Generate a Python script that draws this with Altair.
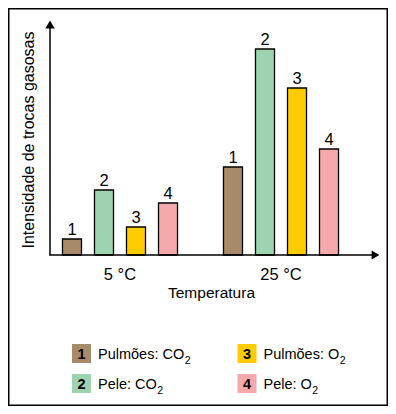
import altair as alt
import pandas as pd

# ---- data ----
temps = ["5 °C", "25 °C"]
series = ["Pulmões: CO₂", "Pele: CO₂", "Pulmões: O₂", "Pele: O₂"]
legend_main = ["Pulmões: CO", "Pele: CO", "Pulmões: O", "Pele: O"]
legend_sub = ["2", "2", "2", "2"]
numbers = ["1", "2", "3", "4"]
colors = ["#A68A6A", "#9DD3AE", "#FFCC00", "#F6A9AA"]
values_5C = [16, 65, 28, 52]
values_25C = [88, 206, 167, 106]
legend_col = [0, 0, 1, 1]
legend_row = [0, 1, 0, 1]
y_title = "Intensidade de trocas gasosas"
x_title = "Temperatura"

FONT = "Liberation Sans"
LEG_FS = 14.5
COL_STEP = 165.5      # px between legend columns
TXT_GAP = 16.5        # px from square centre to label start

# Arial / Liberation Sans advance widths (em) for the legend characters
_w = {"P": .667, "u": .556, "l": .222, "m": .833, "õ": .556, "e": .556, "s": .5,
      ":": .278, " ": .278, "C": .722, "O": .778}


def text_w(s, fs):
    return sum(_w.get(c, .556) for c in s) * fs


rows = []
for t, vals in zip(temps, [values_5C, values_25C]):
    for s, n, v in zip(series, numbers, vals):
        rows.append({"temp": t, "series": s, "num": n, "value": v})
bars_df = pd.DataFrame(rows)
legend_df = pd.DataFrame({"series": series, "num": numbers, "main": legend_main,
                          "sub": legend_sub, "lcol": legend_col, "lrow": legend_row,
                          "mw": [text_w(m, LEG_FS) for m in legend_main]})
temps_df = pd.DataFrame({"temp": temps})
one = pd.DataFrame({"k": [0]})

xscale = alt.Scale(domain=temps, range=[31.5, 353.5], paddingInner=0, paddingOuter=0)
xoff = alt.Scale(domain=series, paddingInner=0.406, paddingOuter=0.718)
yscale = alt.Scale(domain=[0, 240], range=[247, 7])
cscale = alt.Scale(domain=series, range=colors)

X = alt.X("temp:N", scale=xscale, axis=None, sort=temps)
XO = alt.XOffset("series:N", scale=xoff, sort=series)
Y = alt.Y("value:Q", scale=yscale, axis=None)

bars = alt.Chart(bars_df).mark_bar(stroke="black", strokeWidth=1.3).encode(
    x=X, xOffset=XO, y=Y,
    color=alt.Color("series:N", scale=cscale, legend=None),
)
bar_labels = alt.Chart(bars_df).mark_text(
    font=FONT, fontSize=16.5, baseline="alphabetic", dy=-4, color="black"
).encode(x=X, xOffset=XO, y=Y, text="num:N")

group_labels = alt.Chart(temps_df).mark_text(
    font=FONT, fontSize=16.5, baseline="alphabetic", color="black"
).encode(x=X, y=alt.value(272), text="temp:N")

x_title_mark = alt.Chart(pd.DataFrame({"t": [x_title]})).mark_text(
    font=FONT, fontSize=15.5, baseline="alphabetic", color="black"
).encode(x=alt.value(203.5), y=alt.value(289.5), text="t:N")

y_title_mark = alt.Chart(pd.DataFrame({"t": [y_title]})).mark_text(
    font=FONT, fontSize=16, baseline="middle", align="center", angle=270, color="black"
).encode(x=alt.value(21), y=alt.value(132), text="t:N")

# axes with arrowheads
y_axis = alt.Chart(one).mark_rule(color="black", strokeWidth=1.5).encode(
    x=alt.value(42), y=alt.value(247.5), y2=alt.value(18))
x_axis = alt.Chart(one).mark_rule(color="black", strokeWidth=1.5).encode(
    x=alt.value(41.5), x2=alt.value(366), y=alt.value(247))
y_arrow = alt.Chart(one).mark_point(shape="triangle-up", filled=True, size=90,
                                    color="black", opacity=1).encode(
    x=alt.value(42), y=alt.value(16.5))
x_arrow = alt.Chart(one).mark_point(shape="triangle-right", filled=True, size=80,
                                    color="black", opacity=1).encode(
    x=alt.value(367.5), y=alt.value(247))

# frame
frame = alt.Chart(one).mark_rect(fillOpacity=0, stroke="black", strokeWidth=1.5).encode(
    x=alt.value(0.75), x2=alt.value(379.25), y=alt.value(0.75), y2=alt.value(397.25))

# legend (x scale in pixel units, offset from the first square centre)
LXS = alt.Scale(domain=[0, 380], range=[73.5, 453.5], zero=False)
LY = alt.Y("lrow:Q", scale=alt.Scale(domain=[0, 1], range=[345.5, 375.5]), axis=None)
legend_base = alt.Chart(legend_df).transform_calculate(
    sx=f"datum.lcol * {COL_STEP}",
    tx=f"datum.lcol * {COL_STEP} + {TXT_GAP}",
    ux=f"datum.lcol * {COL_STEP} + {TXT_GAP} + datum.mw",
)
leg_sq = legend_base.mark_point(shape="square", filled=True, size=361, opacity=1).encode(
    x=alt.X("sx:Q", scale=LXS, axis=None), y=LY,
    color=alt.Color("series:N", scale=cscale, legend=None))
leg_num = legend_base.mark_text(
    font=FONT, fontSize=LEG_FS, fontWeight="bold", baseline="alphabetic", align="center",
    dy=5.5, color="black"
).encode(x=alt.X("sx:Q", scale=LXS, axis=None), y=LY, text="num:N")
leg_txt = legend_base.mark_text(
    font=FONT, fontSize=LEG_FS, baseline="alphabetic", align="left", dy=5.5, color="black"
).encode(x=alt.X("tx:Q", scale=LXS, axis=None), y=LY, text="main:N")
leg_sub = legend_base.mark_text(
    font=FONT, fontSize=10.5, baseline="alphabetic", align="left", dy=10, dx=0.5, color="black"
).encode(x=alt.X("ux:Q", scale=LXS, axis=None), y=LY, text="sub:N")

chart = alt.layer(
    frame, bars, bar_labels, group_labels, x_title_mark, y_title_mark,
    y_axis, x_axis, y_arrow, x_arrow, leg_sq, leg_num, leg_txt, leg_sub
).resolve_scale(x="independent", y="independent").properties(
    width=380, height=398, padding=0,
    autosize=alt.AutoSizeParams(type="none"),
    background="white",
).configure_view(stroke=None)

chart.save("out.html", embed_options={"renderer": "svg", "actions": False})
